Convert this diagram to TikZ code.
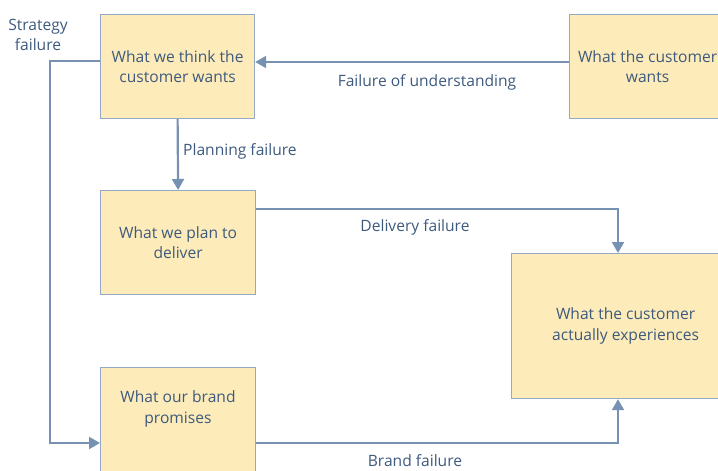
\documentclass[tikz,border=0pt]{standalone}
\usepackage{fontspec}
\setmainfont{Open Sans}
\usetikzlibrary{arrows.meta,calc}
\definecolor{boxfill}{HTML}{FDEBB9}
\definecolor{boxedge}{HTML}{94A9C4}
\definecolor{linkcol}{HTML}{7691B1}
\definecolor{inkcol}{HTML}{3D5A7E}
\begin{document}
\begin{tikzpicture}[x=1pt,y=-1pt,
  box/.style={draw=boxedge,fill=boxfill,line width=1.2pt,anchor=north west,
    inner sep=0pt,align=center,text=inkcol,font=\fontsize{15.6}{20.5}\selectfont},
  lbl/.style={text=inkcol,font=\fontsize{15.6}{20.5}\selectfont,inner sep=0pt,align=center},
  link/.style={draw=linkcol,line width=2.2pt,
    -{Triangle[width=12pt,length=11pt]}}]
  \useasboundingbox (0,0) rectangle (718,471);
  \clip (0,0) rectangle (718,471);

  % boxes
  \node[box,minimum width=154,minimum height=104] (think) at (100,14)
    {What we think the\\customer wants};
  \node[box,minimum width=156,minimum height=104] (wants) at (569,14)
    {What the customer\\wants};
  \node[box,minimum width=155,minimum height=104] (plan) at (100,190)
    {What we plan to\\deliver};
  \node[box,minimum width=228,minimum height=145] (exp) at (511,253)
    {What the customer\\actually experiences};
  \node[box,minimum width=155,minimum height=130] (brand) at (100,367) {};
  \node[lbl] (brandtxt) at (178,409) {What our brand\\promises};

  % turning points
  \coordinate (stratx) at (50,0);
  \coordinate (expx) at ($(exp.north west)+(107,0)$);

  % connectors
  \draw[link] ($(wants.north west)+(0,48)$) -- ($(think.north east)+(0,48)$);
  \draw[link] (think.south) -- (plan.north);
  \draw[link] ($(plan.north east)+(0,19)$) -| (expx);
  \draw[link] ($(think.north west)+(0,47)$) -| ($(stratx)+(0,443)$) -- ($(brand.north west)+(0,76)$);
  \draw[link] ($(brand.north east)+(0,76)$) -| (expx |- exp.south);

  % connector labels
  \node[lbl] (l1) at (427,82) {Failure of understanding};
  \node[lbl,anchor=west] (l2) at (183,151) {Planning failure};
  \node[lbl] (l3) at (415,227) {Delivery failure};
  \node[lbl] (l4) at (38,35) {Strategy\\failure};
  \node[lbl] (l5) at (415,461) {Brand failure};
\end{tikzpicture}
\end{document}
